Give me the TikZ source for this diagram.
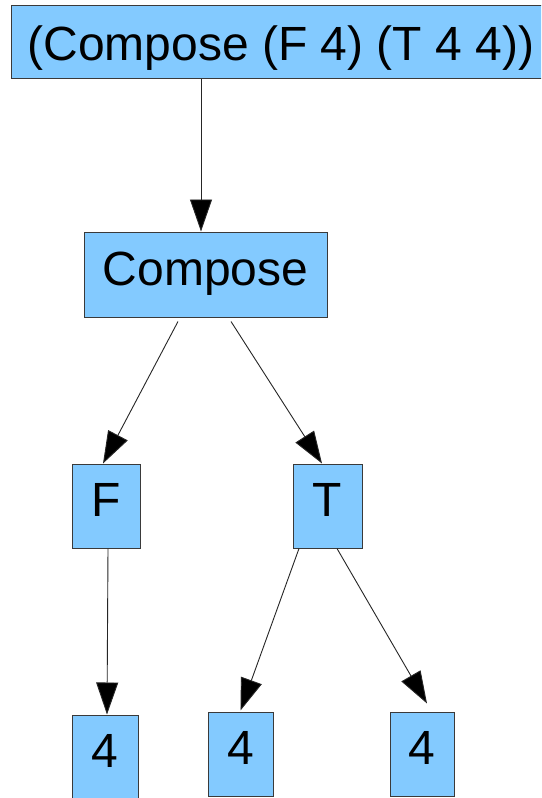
\documentclass[tikz,border=0pt]{standalone}
\usepackage{fontspec}
\setmainfont{Liberation Sans}
\usetikzlibrary{arrows.meta}
\definecolor{boxfill}{HTML}{83CAFF}
\definecolor{boxline}{HTML}{3A3A3A}
\tikzset{
  treebox/.style={draw=boxline, line width=1pt, fill=boxfill, inner sep=0pt,
    font=\fontsize{48}{57}\selectfont, text height=34pt, text depth=13pt},
  rootbox/.style={treebox, text height=40pt, text depth=3pt},
  link/.style={draw=black!85, line width=0.9pt,
    -{Triangle[length=32pt,width=22pt,fill=black]}}
}
\begin{document}
\begin{tikzpicture}[x=1pt,y=-1pt]
  \clip (0,0) rectangle (541,798);
  \fill[white] (0,0) rectangle (541,798);
  % nodes of the expression tree
  \node[rootbox, minimum width=540pt, minimum height=73pt] (root) at (281,41.5) {(Compose (F 4) (T 4 4))};
  \node[treebox, minimum width=243pt, minimum height=85pt] (cmp) at (205.5,274.5) {Compose};
  \node[treebox, minimum width=68pt, minimum height=84pt] (f) at (106,506) {F};
  \node[treebox, minimum width=69pt, minimum height=84pt] (t) at (327.5,506) {T};
  \node[treebox, minimum width=66pt, minimum height=84pt] (fa) at (105,757) {4};
  \node[treebox, minimum width=65pt, minimum height=84pt] (ta) at (240.5,754) {4};
  \node[treebox, minimum width=64pt, minimum height=84pt] (tb) at (422,754) {4};
  % connectors
  \draw[link] ([xshift=-80pt]root.south) -- ([xshift=-4.5pt]cmp.north);
  \draw[link] ([xshift=-27.5pt,yshift=-4pt]cmp.south) -- ([xshift=-3pt]f.north);
  \draw[link] ([xshift=25.5pt,yshift=-4pt]cmp.south) -- ([xshift=-5.5pt]t.north);
  \draw[link] ([xshift=2pt]f.south) -- ([xshift=2pt]fa.north);
  \draw[link] ([xshift=-28.5pt]t.south) -- ([yshift=1pt]ta.north);
  \draw[link] ([xshift=9.5pt]t.south) -- ([xshift=5pt,yshift=8pt]tb.north);
\end{tikzpicture}
\end{document}
